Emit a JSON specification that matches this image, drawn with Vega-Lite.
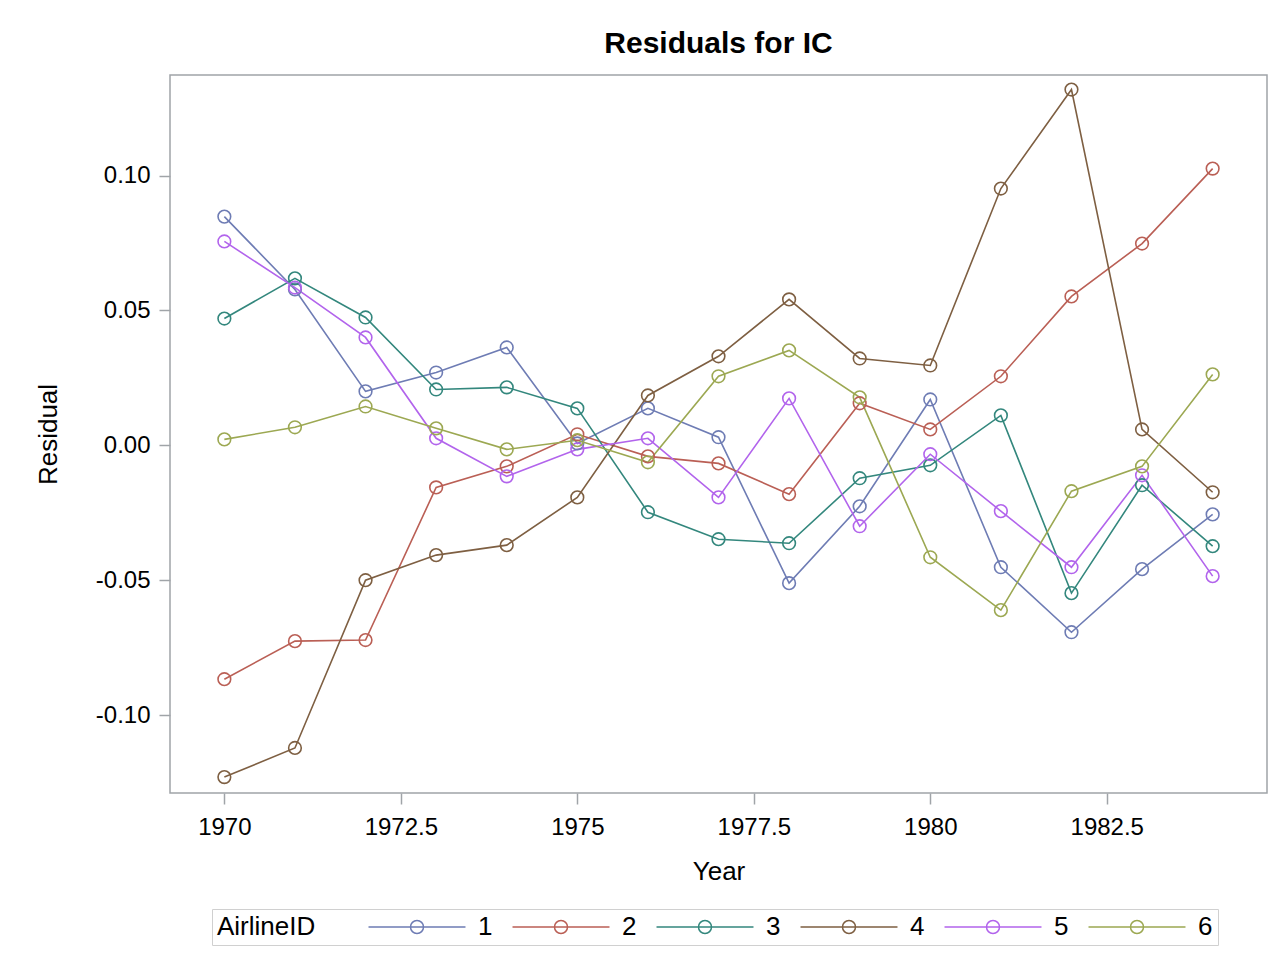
{
  "$schema": "https://vega.github.io/schema/vega-lite/v6.json",
  "autosize": {"type": "none"},
  "padding": {"left": 170, "top": 75, "right": 20, "bottom": 167},
  "width": 1097,
  "height": 718,
  "background": "white",
  "title": {
    "text": "Residuals for IC",
    "font": "Liberation Sans",
    "fontSize": 30,
    "fontWeight": "bold",
    "color": "black",
    "anchor": "middle",
    "frame": "group",
    "offset": 16
  },
  "data": {
    "values": [
      {"Year": 1970, "AirlineID": "1", "Residual": 0.0848},
      {"Year": 1971, "AirlineID": "1", "Residual": 0.0578},
      {"Year": 1972, "AirlineID": "1", "Residual": 0.0200},
      {"Year": 1973, "AirlineID": "1", "Residual": 0.0270},
      {"Year": 1974, "AirlineID": "1", "Residual": 0.0363},
      {"Year": 1975, "AirlineID": "1", "Residual": 0.0007},
      {"Year": 1976, "AirlineID": "1", "Residual": 0.0137},
      {"Year": 1977, "AirlineID": "1", "Residual": 0.0030},
      {"Year": 1978, "AirlineID": "1", "Residual": -0.0511},
      {"Year": 1979, "AirlineID": "1", "Residual": -0.0226},
      {"Year": 1980, "AirlineID": "1", "Residual": 0.0170},
      {"Year": 1981, "AirlineID": "1", "Residual": -0.0452},
      {"Year": 1982, "AirlineID": "1", "Residual": -0.0693},
      {"Year": 1983, "AirlineID": "1", "Residual": -0.0459},
      {"Year": 1984, "AirlineID": "1", "Residual": -0.0256},
      {"Year": 1970, "AirlineID": "2", "Residual": -0.0867},
      {"Year": 1971, "AirlineID": "2", "Residual": -0.0726},
      {"Year": 1972, "AirlineID": "2", "Residual": -0.0722},
      {"Year": 1973, "AirlineID": "2", "Residual": -0.0156},
      {"Year": 1974, "AirlineID": "2", "Residual": -0.0078},
      {"Year": 1975, "AirlineID": "2", "Residual": 0.0041},
      {"Year": 1976, "AirlineID": "2", "Residual": -0.0041},
      {"Year": 1977, "AirlineID": "2", "Residual": -0.0067},
      {"Year": 1978, "AirlineID": "2", "Residual": -0.0181},
      {"Year": 1979, "AirlineID": "2", "Residual": 0.0156},
      {"Year": 1980, "AirlineID": "2", "Residual": 0.0059},
      {"Year": 1981, "AirlineID": "2", "Residual": 0.0256},
      {"Year": 1982, "AirlineID": "2", "Residual": 0.0552},
      {"Year": 1983, "AirlineID": "2", "Residual": 0.0748},
      {"Year": 1984, "AirlineID": "2", "Residual": 0.1026},
      {"Year": 1970, "AirlineID": "3", "Residual": 0.0470},
      {"Year": 1971, "AirlineID": "3", "Residual": 0.0619},
      {"Year": 1972, "AirlineID": "3", "Residual": 0.0474},
      {"Year": 1973, "AirlineID": "3", "Residual": 0.0207},
      {"Year": 1974, "AirlineID": "3", "Residual": 0.0215},
      {"Year": 1975, "AirlineID": "3", "Residual": 0.0137},
      {"Year": 1976, "AirlineID": "3", "Residual": -0.0248},
      {"Year": 1977, "AirlineID": "3", "Residual": -0.0348},
      {"Year": 1978, "AirlineID": "3", "Residual": -0.0363},
      {"Year": 1979, "AirlineID": "3", "Residual": -0.0122},
      {"Year": 1980, "AirlineID": "3", "Residual": -0.0074},
      {"Year": 1981, "AirlineID": "3", "Residual": 0.0111},
      {"Year": 1982, "AirlineID": "3", "Residual": -0.0548},
      {"Year": 1983, "AirlineID": "3", "Residual": -0.0148},
      {"Year": 1984, "AirlineID": "3", "Residual": -0.0374},
      {"Year": 1970, "AirlineID": "4", "Residual": -0.1230},
      {"Year": 1971, "AirlineID": "4", "Residual": -0.1122},
      {"Year": 1972, "AirlineID": "4", "Residual": -0.0500},
      {"Year": 1973, "AirlineID": "4", "Residual": -0.0407},
      {"Year": 1974, "AirlineID": "4", "Residual": -0.0370},
      {"Year": 1975, "AirlineID": "4", "Residual": -0.0193},
      {"Year": 1976, "AirlineID": "4", "Residual": 0.0185},
      {"Year": 1977, "AirlineID": "4", "Residual": 0.0330},
      {"Year": 1978, "AirlineID": "4", "Residual": 0.0541},
      {"Year": 1979, "AirlineID": "4", "Residual": 0.0322},
      {"Year": 1980, "AirlineID": "4", "Residual": 0.0296},
      {"Year": 1981, "AirlineID": "4", "Residual": 0.0952},
      {"Year": 1982, "AirlineID": "4", "Residual": 0.1319},
      {"Year": 1983, "AirlineID": "4", "Residual": 0.0059},
      {"Year": 1984, "AirlineID": "4", "Residual": -0.0174},
      {"Year": 1970, "AirlineID": "5", "Residual": 0.0756},
      {"Year": 1971, "AirlineID": "5", "Residual": 0.0585},
      {"Year": 1972, "AirlineID": "5", "Residual": 0.0400},
      {"Year": 1973, "AirlineID": "5", "Residual": 0.0026},
      {"Year": 1974, "AirlineID": "5", "Residual": -0.0115},
      {"Year": 1975, "AirlineID": "5", "Residual": -0.0015},
      {"Year": 1976, "AirlineID": "5", "Residual": 0.0026},
      {"Year": 1977, "AirlineID": "5", "Residual": -0.0193},
      {"Year": 1978, "AirlineID": "5", "Residual": 0.0174},
      {"Year": 1979, "AirlineID": "5", "Residual": -0.0300},
      {"Year": 1980, "AirlineID": "5", "Residual": -0.0033},
      {"Year": 1981, "AirlineID": "5", "Residual": -0.0244},
      {"Year": 1982, "AirlineID": "5", "Residual": -0.0452},
      {"Year": 1983, "AirlineID": "5", "Residual": -0.0111},
      {"Year": 1984, "AirlineID": "5", "Residual": -0.0485},
      {"Year": 1970, "AirlineID": "6", "Residual": 0.0022},
      {"Year": 1971, "AirlineID": "6", "Residual": 0.0067},
      {"Year": 1972, "AirlineID": "6", "Residual": 0.0144},
      {"Year": 1973, "AirlineID": "6", "Residual": 0.0063},
      {"Year": 1974, "AirlineID": "6", "Residual": -0.0015},
      {"Year": 1975, "AirlineID": "6", "Residual": 0.0019},
      {"Year": 1976, "AirlineID": "6", "Residual": -0.0063},
      {"Year": 1977, "AirlineID": "6", "Residual": 0.0256},
      {"Year": 1978, "AirlineID": "6", "Residual": 0.0352},
      {"Year": 1979, "AirlineID": "6", "Residual": 0.0178},
      {"Year": 1980, "AirlineID": "6", "Residual": -0.0415},
      {"Year": 1981, "AirlineID": "6", "Residual": -0.0611},
      {"Year": 1982, "AirlineID": "6", "Residual": -0.0170},
      {"Year": 1983, "AirlineID": "6", "Residual": -0.0078},
      {"Year": 1984, "AirlineID": "6", "Residual": 0.0263}
    ]
  },
  "encoding": {
    "x": {
      "field": "Year",
      "type": "quantitative",
      "title": "Year",
      "scale": {"domain": [1969.23, 1984.77], "nice": false, "zero": false},
      "axis": {
        "values": [1970, 1972.5, 1975, 1977.5, 1980, 1982.5],
        "labelExpr": "toString(datum.value)",
        "labelPadding": 11,
        "titlePadding": 19
      }
    },
    "y": {
      "field": "Residual",
      "type": "quantitative",
      "title": "Residual",
      "scale": {"domain": [-0.1289, 0.1373], "nice": false, "zero": false},
      "axis": {
        "values": [-0.1, -0.05, 0, 0.05, 0.1],
        "labelExpr": "replace(format(datum.value, '.2f'), '−', '-')",
        "labelPadding": 9,
        "titlePadding": 34
      }
    },
    "color": {
      "field": "AirlineID",
      "type": "nominal",
      "title": "AirlineID",
      "scale": {
        "domain": ["1", "2", "3", "4", "5", "6"],
        "range": ["#6E7CB4", "#BA5F55", "#33877D", "#7E5F42", "#B264EC", "#9CA852"]
      },
      "legend": {
        "orient": "none",
        "legendX": 42,
        "legendY": 834,
        "direction": "horizontal",
        "titleOrient": "left",
        "symbolType": "M-7.46,0L7.46,0M-1,0A1,1 0 1,0 1,0A1,1 0 1,0 -1,0",
        "symbolSize": 169,
        "symbolStrokeWidth": 1.5,
        "symbolFillColor": "transparent",
        "labelOffset": 48,
        "columnPadding": 16,
        "titlePadding": 88,
        "padding": 5,
        "strokeColor": "#D0D0D0"
      }
    }
  },
  "layer": [
    {"mark": {"type": "line", "strokeWidth": 1.6}},
    {"mark": {"type": "point", "shape": "circle", "filled": false, "size": 160, "strokeWidth": 1.6, "opacity": 1}}
  ],
  "config": {
    "font": "Liberation Sans",
    "view": {"stroke": "#A0A4A8", "strokeWidth": 1.5},
    "axis": {
      "domain": false,
      "grid": false,
      "tickColor": "#A0A4A8",
      "tickSize": 11,
      "tickWidth": 1.5,
      "labelFont": "Liberation Sans",
      "labelFontSize": 24,
      "labelColor": "black",
      "titleFont": "Liberation Sans",
      "titleFontSize": 26,
      "titleFontWeight": "normal",
      "titleColor": "black"
    },
    "legend": {
      "labelFont": "Liberation Sans",
      "labelFontSize": 26,
      "labelColor": "black",
      "titleFont": "Liberation Sans",
      "titleFontSize": 26,
      "titleFontWeight": "normal",
      "titleColor": "black"
    }
  }
}
